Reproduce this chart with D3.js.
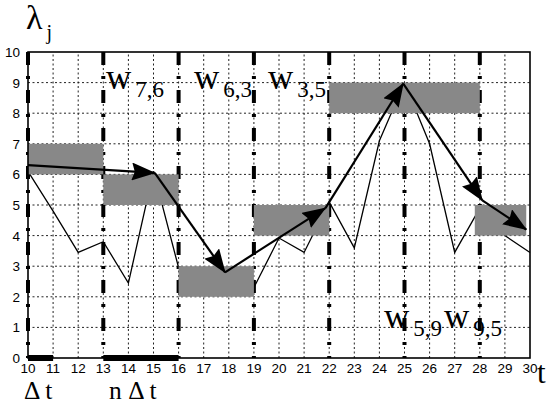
<!DOCTYPE html>
<html>
<head>
<meta charset="utf-8">
<script src="https://cdn.jsdelivr.net/npm/d3@7"></script>
<style>
  body { margin: 0; background: #fff; }
  svg { display: block; }
  .sans { font-family: "Liberation Sans", Arial, sans-serif; font-size: 13.5px; }
  .serif { font-family: "Liberation Serif", "Times New Roman", serif; }
</style>
</head>
<body>
<div id="chart"></div>
<script>
// sampled lambda_j values (thin line)
const tSample = [10, 11, 12, 13, 14, 15, 16, 17, 18, 19, 20, 21, 22, 23, 24, 25, 26, 27, 28, 29, 30];
const lamSample = [6.1, 4.8, 3.45, 3.8, 2.45, 6.1, 2.95, 2.7, 2.5, 2.3, 3.92, 3.45, 5.1, 3.6, 7.1, 9.0, 7.0, 3.45, 4.9, 4.0, 3.45];

// grey level boxes
const boxStart = [10, 13, 16, 19, 22, 27.8];
const boxEnd = [13, 16, 19, 22, 28, 29.85];
const boxLow = [6, 5, 2, 4, 8, 4];
const boxHigh = [7, 6, 3, 5, 9, 5];

// arrow path
const arrowT = [10, 15.05, 17.85, 21.85, 24.95, 28.1, 29.85];
const arrowL = [6.3, 6.05, 2.8, 4.9, 8.97, 5.15, 4.2];

// window boundaries and marked intervals
const windowT = [10, 13, 16, 19, 22, 25, 28];
const barFrom = [10, 13];
const barTo = [11, 16];

const xTicks = d3.range(10, 31);
const yTicks = d3.range(0, 11);

const width = 549, height = 405;

const svg = d3.select("#chart")
  .append("svg")
    .attr("width", width)
    .attr("height", height);

const x = d3.scaleLinear().domain([10, 30]).range([28, 530]);
const y = d3.scaleLinear().domain([0, 10]).range([358, 52]);

// arrow marker
svg.append("defs").append("marker")
    .attr("id", "arr")
    .attr("viewBox", "0 0 24 18")
    .attr("refX", 23)
    .attr("refY", 9)
    .attr("markerUnits", "userSpaceOnUse")
    .attr("markerWidth", 24)
    .attr("markerHeight", 18)
    .attr("orient", "auto")
  .append("path")
    .attr("d", "M0,0L24,9L0,18L3,9Z")
    .attr("fill", "#000");

// grid
const grid = svg.append("g");
grid.selectAll(".gx")
  .data(xTicks.filter(d => d > 10 && d < 30))
  .join("line")
    .attr("x1", d => x(d)).attr("x2", d => x(d))
    .attr("y1", y(0)).attr("y2", y(10))
    .attr("stroke", "#222").attr("stroke-width", 1)
    .attr("stroke-dasharray", "2,2.5");
grid.selectAll(".gy")
  .data(yTicks.filter(d => d > 0 && d < 10))
  .join("line")
    .attr("x1", x(10)).attr("x2", x(30))
    .attr("y1", d => y(d)).attr("y2", d => y(d))
    .attr("stroke", "#222").attr("stroke-width", 1)
    .attr("stroke-dasharray", "2,2.5");

// window boundaries (dash-dot)
svg.append("g").selectAll("line")
  .data(windowT)
  .join("line")
    .attr("x1", d => x(d)).attr("x2", d => x(d))
    .attr("y1", y(10)).attr("y2", y(0))
    .attr("stroke", "#000").attr("stroke-width", 4)
    .attr("stroke-dasharray", "13,11,3,11");

// thin sample line
svg.append("path")
  .datum(tSample.map((t, i) => [t, lamSample[i]]))
  .attr("fill", "none")
  .attr("stroke", "#000")
  .attr("stroke-width", 1.3)
  .attr("d", d3.line().x(d => x(d[0])).y(d => y(d[1])));

// grey boxes
svg.append("g").selectAll("rect")
  .data(boxStart.map((s, i) => ({s, e: boxEnd[i], lo: boxLow[i], hi: boxHigh[i]})))
  .join("rect")
    .attr("x", d => x(d.s))
    .attr("y", d => y(d.hi))
    .attr("width", d => x(d.e) - x(d.s))
    .attr("height", d => y(d.lo) - y(d.hi))
    .attr("fill", "#888");

// frame
svg.append("rect")
  .attr("x", x(10)).attr("y", y(10))
  .attr("width", x(30) - x(10)).attr("height", y(0) - y(10))
  .attr("fill", "none").attr("stroke", "#000").attr("stroke-width", 1.6);

// thick bars on the time axis
svg.append("g").selectAll("line")
  .data(barFrom.map((a, i) => [a, barTo[i]]))
  .join("line")
    .attr("x1", d => x(d[0])).attr("x2", d => x(d[1]))
    .attr("y1", y(0)).attr("y2", y(0))
    .attr("stroke", "#000").attr("stroke-width", 6);

// arrows
const segs = arrowT.slice(1).map((t, i) => [arrowT[i], arrowL[i], t, arrowL[i + 1]]);
svg.append("g").selectAll("line")
  .data(segs)
  .join("line")
    .attr("x1", d => x(d[0])).attr("y1", d => y(d[1]))
    .attr("x2", d => x(d[2])).attr("y2", d => y(d[3]))
    .attr("stroke", "#000").attr("stroke-width", 2.2)
    .attr("marker-end", "url(#arr)");

// tick labels
svg.append("g").selectAll("text")
  .data(xTicks)
  .join("text")
    .attr("class", "sans")
    .attr("x", d => x(d))
    .attr("y", 373)
    .attr("text-anchor", "middle")
    .text(d => d);
svg.append("g").selectAll("text")
  .data(yTicks)
  .join("text")
    .attr("class", "sans")
    .attr("x", 20)
    .attr("y", d => y(d) + 5)
    .attr("text-anchor", "end")
    .text(d => d);

// serif labels
function sub(xp, yp, main, s, size, ssize, dy) {
  const t = svg.append("text")
    .attr("class", "serif")
    .attr("x", xp).attr("y", yp)
    .style("font-size", size + "px");
  t.append("tspan").text(main);
  t.append("tspan").attr("dx", 4).attr("dy", dy).style("font-size", ssize + "px").text(s);
}
sub(26, 29, "λ", "j", 34, 20, 10);
sub(106, 89, "w", "7,6", 35, 23, 8);
sub(194, 89, "w", "6,3", 35, 23, 8);
sub(268, 89, "w", "3,5", 35, 23, 8);
sub(384, 328, "w", "5,9", 35, 23, 8);
sub(444, 328, "w", "9,5", 35, 23, 8);

function plain(xp, yp, s, size) {
  svg.append("text").attr("class", "serif")
    .attr("x", xp).attr("y", yp)
    .style("font-size", size + "px").text(s);
}
plain(24, 399, "Δ t", 25.5);
plain(109, 399, "n Δ t", 25.5);
plain(537, 383, "t", 31);
</script>
</body>
</html>
